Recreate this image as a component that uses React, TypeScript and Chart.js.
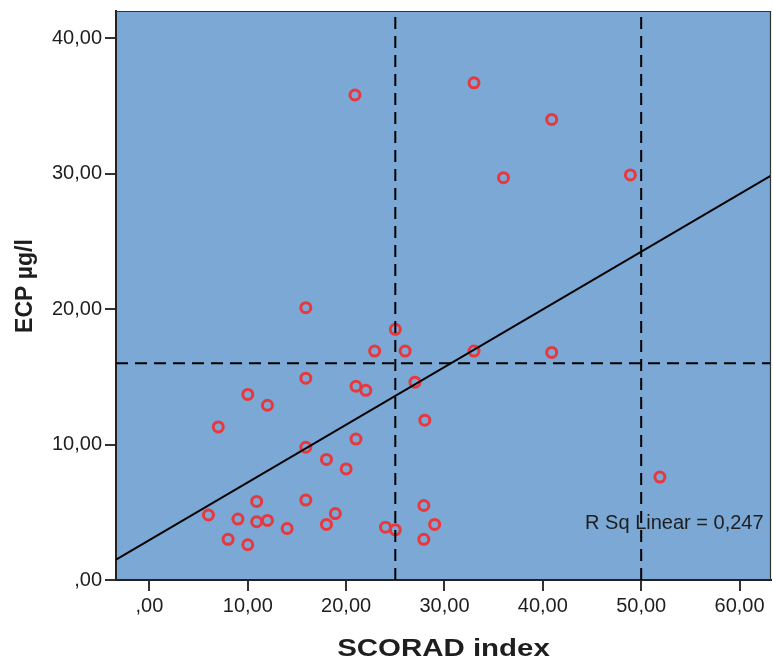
import React, { useEffect, useRef } from "react";
import { Chart, registerables } from "chart.js";

Chart.register(...registerables);

// ---- data ----
const SCORAD: number[] = [
  20.9, 33.0, 40.9, 36.0, 48.9, 15.9, 25.0, 22.9, 26.0, 33.0,
  40.9, 15.9, 21.0, 22.0, 27.0, 10.0, 12.0, 7.0, 28.0, 15.9,
  21.0, 18.0, 20.0, 51.9, 6.0, 10.9, 15.9, 18.9, 9.0, 10.9,
  12.0, 14.0, 18.0, 24.0, 25.0, 27.9, 29.0, 27.9, 8.0, 10.0,
];
const ECP: number[] = [
  35.8, 36.7, 34.0, 29.7, 29.9, 20.1, 18.5, 16.9, 16.9, 16.9,
  16.8, 14.9, 14.3, 14.0, 14.6, 13.7, 12.9, 11.3, 11.8, 9.8,
  10.4, 8.9, 8.2, 7.6, 4.8, 5.8, 5.9, 4.9, 4.5, 4.3,
  4.4, 3.8, 4.1, 3.9, 3.7, 5.5, 4.1, 3.0, 3.0, 2.6,
];
const X_TICKS: number[] = [0, 10, 20, 30, 40, 50, 60];
const Y_TICKS: number[] = [0, 10, 20, 30, 40];
const X_RANGE: number[] = [-3.4, 63.2];
const Y_RANGE: number[] = [0, 42];
const CUT_X: number[] = [25, 50];
const CUT_Y: number[] = [16];
const R_SQ_LABEL = "R Sq Linear = 0,247";
const R_SQ_AT: number[] = [44.3, 4.2];
const X_TITLE = "SCORAD index";
const Y_TITLE = "ECP µg/l";

// ---- styles ----
const BG = "#7ba8d5";
const RED = "#e8383d";
const INK = "#1e1e1e";
const FONT = "'Liberation Sans', Arial, sans-serif";

function fmt(v: number): string {
  return v === 0 ? ",00" : v.toFixed(2).replace(".", ",");
}

function linearFit(xs: number[], ys: number[]) {
  const n = xs.length;
  const mx = xs.reduce((a, b) => a + b, 0) / n;
  const my = ys.reduce((a, b) => a + b, 0) / n;
  let sxy = 0;
  let sxx = 0;
  for (let i = 0; i < n; i++) {
    sxy += (xs[i] - mx) * (ys[i] - my);
    sxx += (xs[i] - mx) * (xs[i] - mx);
  }
  const slope = sxy / sxx;
  return { slope, intercept: my - slope * mx };
}

const decorPlugin = {
  id: "decor",
  beforeDraw(chart: any) {
    const { ctx, chartArea: a } = chart;
    ctx.save();
    ctx.fillStyle = BG;
    ctx.fillRect(a.left, a.top, a.right - a.left, a.bottom - a.top);
    ctx.restore();
  },
  afterDraw(chart: any) {
    const { ctx, chartArea: a, scales } = chart;
    ctx.save();
    // frame top / right
    ctx.strokeStyle = "#333";
    ctx.lineWidth = 1.2;
    ctx.beginPath();
    ctx.moveTo(a.left, a.top + 0.5);
    ctx.lineTo(a.right - 0.5, a.top + 0.5);
    ctx.lineTo(a.right - 0.5, a.bottom);
    ctx.stroke();

    // R Sq annotation (clipped to plot)
    ctx.save();
    ctx.beginPath();
    ctx.rect(a.left, a.top, a.right - a.left, a.bottom - a.top);
    ctx.clip();
    ctx.fillStyle = INK;
    ctx.font = `20px ${FONT}`;
    ctx.textAlign = "left";
    ctx.textBaseline = "middle";
    ctx.fillText(
      R_SQ_LABEL,
      scales.x.getPixelForValue(R_SQ_AT[0]),
      scales.y.getPixelForValue(R_SQ_AT[1])
    );
    ctx.restore();

    // x title (horizontally stretched as in the reference)
    ctx.fillStyle = INK;
    ctx.font = `bold 23px ${FONT}`;
    ctx.textAlign = "center";
    ctx.textBaseline = "alphabetic";
    ctx.save();
    ctx.translate((a.left + a.right) / 2, 656);
    ctx.scale(1.28, 1);
    ctx.fillText(X_TITLE, 0, 0);
    ctx.restore();

    // y title
    ctx.save();
    ctx.translate(32, 286);
    ctx.rotate(-Math.PI / 2);
    ctx.textAlign = "center";
    ctx.textBaseline = "alphabetic";
    ctx.fillText(Y_TITLE, 0, 0);
    ctx.restore();

    ctx.restore();
  },
};

export default function App() {
  const ref = useRef<HTMLCanvasElement | null>(null);

  useEffect(() => {
    if (!ref.current) return;
    const fit = linearFit(SCORAD, ECP);
    const points = SCORAD.map((x, i) => ({ x, y: ECP[i] }));
    const fitLine = X_RANGE.map((x) => ({ x, y: fit.intercept + fit.slope * x }));

    const dashed = {
      borderColor: "#000",
      borderWidth: 2,
      borderDash: [12, 7],
      pointRadius: 0,
      showLine: true,
      fill: false,
      order: 0,
    };

    const datasets: any[] = [
      ...CUT_X.map((cx) => ({
        ...dashed,
        type: "line",
        data: Y_RANGE.map((y) => ({ x: cx, y })),
      })),
      ...CUT_Y.map((cy) => ({
        ...dashed,
        type: "line",
        data: X_RANGE.map((x) => ({ x, y: cy })),
      })),
      {
        type: "line",
        data: fitLine,
        borderColor: "#000",
        borderWidth: 2,
        pointRadius: 0,
        showLine: true,
        fill: false,
        order: 0,
      },
      {
        type: "scatter",
        data: points,
        pointStyle: "circle",
        pointRadius: 5,
        pointBorderWidth: 3,
        pointBackgroundColor: "rgba(0,0,0,0)",
        pointBorderColor: RED,
        order: 1,
      },
    ];

    const tickFont = { family: FONT, size: 20 };
    const chart = new Chart(ref.current, {
      type: "scatter",
      data: { datasets },
      options: {
        animation: false,
        responsive: false,
        devicePixelRatio: 1,
        layout: { autoPadding: false, padding: { top: 11, right: 2, left: 0, bottom: 0 } },
        plugins: {
          legend: { display: false },
          tooltip: { enabled: false },
        },
        scales: {
          x: {
            type: "linear",
            min: X_RANGE[0],
            max: X_RANGE[1],
            afterBuildTicks: (s: any) => {
              s.ticks = X_TICKS.map((value) => ({ value }));
            },
            afterFit: (s: any) => {
              s.height = 79;
              s.paddingLeft = 0;
              s.paddingRight = 0;
            },
            ticks: {
              font: tickFont,
              color: INK,
              padding: 3,
              maxRotation: 0,
              autoSkip: false,
              callback: (v: any) => fmt(Number(v)),
            },
            grid: {
              drawOnChartArea: false,
              drawTicks: true,
              tickLength: 11,
              color: "#333",
              lineWidth: 2,
            },
            border: { display: true, color: "#222", width: 2 },
          },
          y: {
            type: "linear",
            min: Y_RANGE[0],
            max: Y_RANGE[1],
            afterBuildTicks: (s: any) => {
              s.ticks = Y_TICKS.map((value) => ({ value }));
            },
            afterFit: (s: any) => {
              s.width = 116;
              s.paddingTop = 0;
              s.paddingBottom = 0;
            },
            ticks: {
              font: tickFont,
              color: INK,
              padding: 3,
              autoSkip: false,
              callback: (v: any) => fmt(Number(v)),
            },
            grid: {
              drawOnChartArea: false,
              drawTicks: true,
              tickLength: 11,
              color: "#333",
              lineWidth: 2,
            },
            border: { display: true, color: "#222", width: 2 },
          },
        },
      } as any,
      plugins: [decorPlugin],
    });
    return () => chart.destroy();
  }, []);

  return (
    <div style={{ position: "absolute", left: 0, top: 0, width: 773, height: 659, background: "#fff" }}>
      <canvas ref={ref} width={773} height={659} style={{ width: 773, height: 659, display: "block" }} />
    </div>
  );
}
